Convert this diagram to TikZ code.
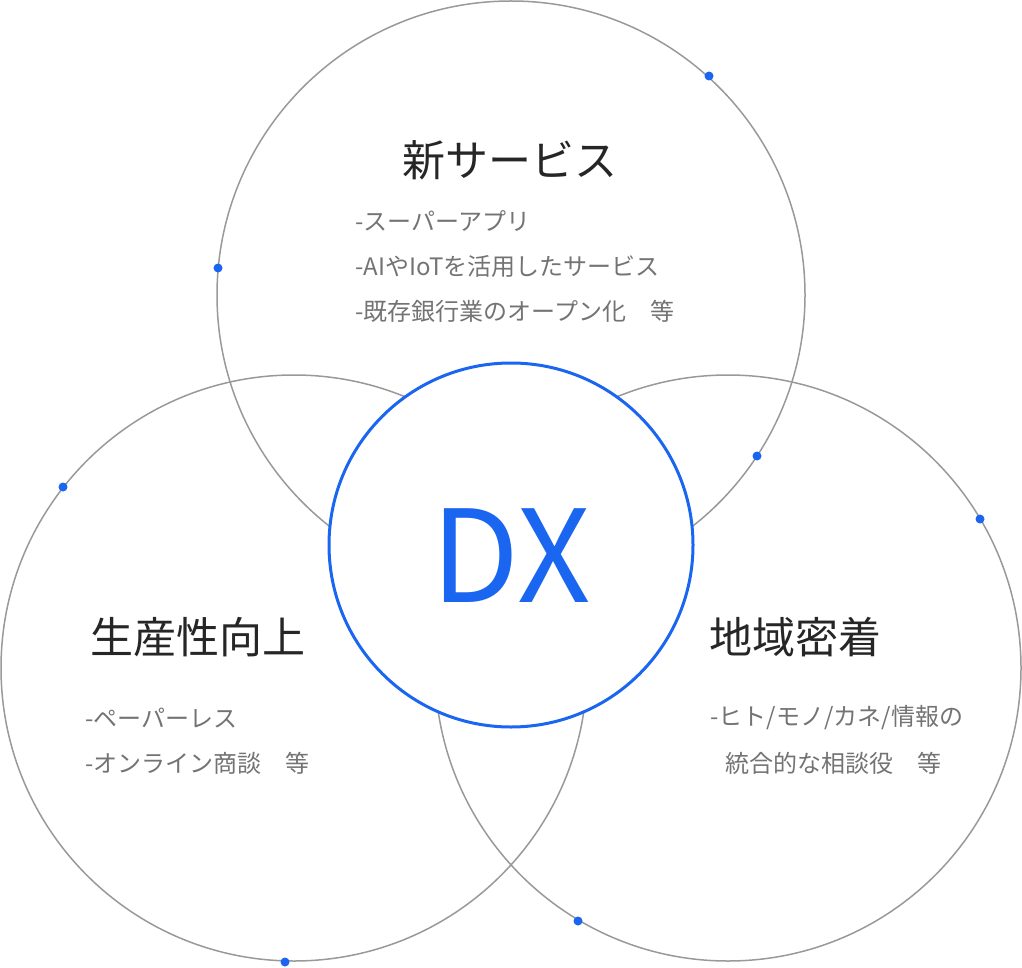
\documentclass[tikz,border=0pt]{standalone}
\usepackage{fontspec}
\setmainfont{Noto Sans CJK JP}
\begin{document}
\begin{tikzpicture}[x=1pt,y=-1pt,
  big/.style={draw=black!40,line width=1.5pt},
  dot/.style={circle,inner sep=0pt,minimum size=9pt},
  ttl/.style={font=\fontsize{43}{45}\selectfont,text=black!85},
  item/.style={font=\fontsize{24}{26}\selectfont,text=black!55,anchor=west}]
\useasboundingbox (0,0) rectangle (1022,968);
\definecolor{dxblue}{HTML}{1A66F0}
\draw[big] (511,295) circle (294);
\draw[big] (294,668) circle (293);
\draw[big] (728,668) circle (293);
\node[draw=dxblue,line width=3pt,fill=white,circle,minimum size=364pt,inner sep=0pt] (dx) at (511,545) {};
\node[text=dxblue,font=\fontsize{128}{128}\selectfont] (dxt) at (511,556) {DX};
\foreach \p [count=\i] in {(709,76),(218,268),(757,456),(63,487),(980,519),(578,921),(285,962)}
  \node[dot,fill=dxblue] (d\i) at \p {};
\node[ttl] (t1) at (510,160) {新サービス};
\node[item] (a1) at (352,221) {-スーパーアプリ};
\node[item] (a2) at (352,266) {-AIやIoTを活用したサービス};
\node[item] (a3) at (352,311) {-既存銀行業のオープン化　等};
\node[ttl] (t2) at (198,637) {生産性向上};
\node[item] (b1) at (82,718) {-ペーパーレス};
\node[item] (b2) at (82,763) {-オンライン商談　等};
\node[ttl] (t3) at (795,637) {地域密着};
\node[item] (c1) at (707,718) {-ヒト/モノ/カネ/情報の};
\node[item] (c2) at (722,763) {統合的な相談役　等};
\end{tikzpicture}
\end{document}
